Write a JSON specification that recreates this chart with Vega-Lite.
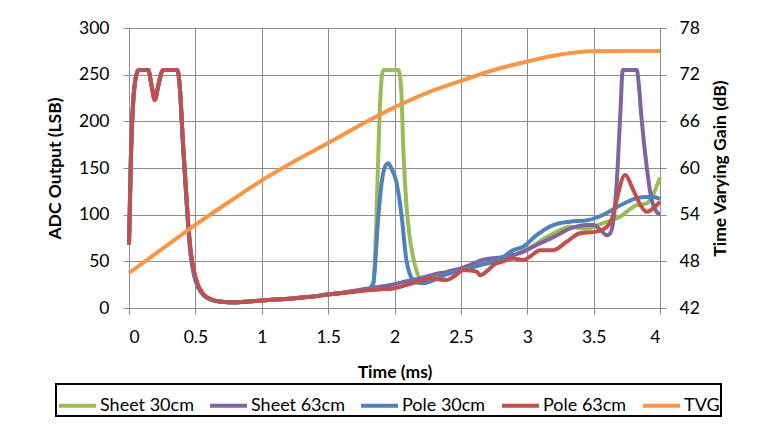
{
  "$schema": "https://vega.github.io/schema/vega-lite/v6.json",
  "width": 531,
  "height": 280,
  "autosize": {"type": "none"},
  "padding": {"left": 129, "top": 28, "right": 100, "bottom": 123},
  "background": "white",
  "config": {
    "font": "Lato",
    "view": {"stroke": null},
    "axis": {
      "labelFont": "Lato", "labelFontSize": 17.5, "labelColor": "#000",
      "titleFont": "Lato", "titleFontSize": 17.5, "titleFontWeight": "bold", "titleColor": "#000",
      "gridColor": "#8c8c8c", "gridWidth": 1, "gridOpacity": 1, "domainColor": "#8c8c8c", "tickColor": "#8c8c8c",
      "tickSize": 6, "domainWidth": 1, "tickWidth": 1, "domain": true, "ticks": true
    },
    "legend": {
      "orient": "none", "legendX": -73, "legendY": 356, "direction": "horizontal",
      "strokeColor": "#000", "strokeWidth": 2, "fillColor": "white", "padding": 1,
      "labelFont": "Lato", "labelFontSize": 18, "labelColor": "#000", "labelOffset": 2,
      "symbolType": "stroke", "symbolSize": 1369, "symbolStrokeWidth": 4, "columnPadding": 8,
      "title": null
    }
  },
  "datasets": {
    "adc": [
      {"s":"Sheet 30cm","t":0,"v":68},{"s":"Sheet 30cm","t":0.015,"v":165},{"s":"Sheet 30cm","t":0.035,"v":228},{"s":"Sheet 30cm","t":0.06,"v":252},{"s":"Sheet 30cm","t":0.075,"v":255},{"s":"Sheet 30cm","t":0.145,"v":255},{"s":"Sheet 30cm","t":0.17,"v":238},{"s":"Sheet 30cm","t":0.195,"v":223},{"s":"Sheet 30cm","t":0.22,"v":238},{"s":"Sheet 30cm","t":0.25,"v":254},{"s":"Sheet 30cm","t":0.265,"v":255},{"s":"Sheet 30cm","t":0.365,"v":255},{"s":"Sheet 30cm","t":0.385,"v":232},{"s":"Sheet 30cm","t":0.405,"v":180},{"s":"Sheet 30cm","t":0.425,"v":135},{"s":"Sheet 30cm","t":0.445,"v":92},{"s":"Sheet 30cm","t":0.465,"v":60},{"s":"Sheet 30cm","t":0.49,"v":38},{"s":"Sheet 30cm","t":0.52,"v":24},{"s":"Sheet 30cm","t":0.56,"v":15},{"s":"Sheet 30cm","t":0.61,"v":9.5},{"s":"Sheet 30cm","t":0.68,"v":7},{"s":"Sheet 30cm","t":0.8,"v":6},{"s":"Sheet 30cm","t":0.9,"v":7},{"s":"Sheet 30cm","t":1.0,"v":8},{"s":"Sheet 30cm","t":1.1,"v":9},{"s":"Sheet 30cm","t":1.25,"v":10.5},{"s":"Sheet 30cm","t":1.4,"v":12.5},{"s":"Sheet 30cm","t":1.5,"v":14.5},{"s":"Sheet 30cm","t":1.6,"v":16},{"s":"Sheet 30cm","t":1.7,"v":18},
      {"s":"Sheet 30cm","t":1.8,"v":20},{"s":"Sheet 30cm","t":1.84,"v":24},{"s":"Sheet 30cm","t":1.86,"v":80},{"s":"Sheet 30cm","t":1.875,"v":150},{"s":"Sheet 30cm","t":1.895,"v":230},{"s":"Sheet 30cm","t":1.915,"v":255},{"s":"Sheet 30cm","t":2.03,"v":255},{"s":"Sheet 30cm","t":2.05,"v":235},{"s":"Sheet 30cm","t":2.067,"v":169},{"s":"Sheet 30cm","t":2.09,"v":110},{"s":"Sheet 30cm","t":2.115,"v":75},{"s":"Sheet 30cm","t":2.14,"v":55},{"s":"Sheet 30cm","t":2.17,"v":38},{"s":"Sheet 30cm","t":2.2,"v":31},{"s":"Sheet 30cm","t":2.25,"v":31},{"s":"Sheet 30cm","t":2.3,"v":33},{"s":"Sheet 30cm","t":2.4,"v":38},{"s":"Sheet 30cm","t":2.5,"v":42},{"s":"Sheet 30cm","t":2.6,"v":46},{"s":"Sheet 30cm","t":2.7,"v":49},{"s":"Sheet 30cm","t":2.8,"v":53},{"s":"Sheet 30cm","t":2.9,"v":57},{"s":"Sheet 30cm","t":2.95,"v":60},{"s":"Sheet 30cm","t":3.05,"v":67},{"s":"Sheet 30cm","t":3.1,"v":72},{"s":"Sheet 30cm","t":3.2,"v":80},{"s":"Sheet 30cm","t":3.32,"v":87},{"s":"Sheet 30cm","t":3.45,"v":85},{"s":"Sheet 30cm","t":3.57,"v":91},{"s":"Sheet 30cm","t":3.7,"v":98},{"s":"Sheet 30cm","t":3.82,"v":110},{"s":"Sheet 30cm","t":3.9,"v":112},{"s":"Sheet 30cm","t":3.95,"v":122},{"s":"Sheet 30cm","t":4.0,"v":140},
      {"s":"Sheet 63cm","t":0,"v":68},{"s":"Sheet 63cm","t":0.015,"v":165},{"s":"Sheet 63cm","t":0.035,"v":228},{"s":"Sheet 63cm","t":0.06,"v":252},{"s":"Sheet 63cm","t":0.075,"v":255},{"s":"Sheet 63cm","t":0.145,"v":255},{"s":"Sheet 63cm","t":0.17,"v":238},{"s":"Sheet 63cm","t":0.195,"v":223},{"s":"Sheet 63cm","t":0.22,"v":238},{"s":"Sheet 63cm","t":0.25,"v":254},{"s":"Sheet 63cm","t":0.265,"v":255},{"s":"Sheet 63cm","t":0.365,"v":255},{"s":"Sheet 63cm","t":0.385,"v":232},{"s":"Sheet 63cm","t":0.405,"v":180},{"s":"Sheet 63cm","t":0.425,"v":135},{"s":"Sheet 63cm","t":0.445,"v":90},{"s":"Sheet 63cm","t":0.465,"v":58},{"s":"Sheet 63cm","t":0.49,"v":36},{"s":"Sheet 63cm","t":0.52,"v":23},{"s":"Sheet 63cm","t":0.56,"v":14},{"s":"Sheet 63cm","t":0.61,"v":9.5},{"s":"Sheet 63cm","t":0.68,"v":7},{"s":"Sheet 63cm","t":0.8,"v":6},{"s":"Sheet 63cm","t":0.9,"v":7},{"s":"Sheet 63cm","t":1.0,"v":8},{"s":"Sheet 63cm","t":1.1,"v":9},{"s":"Sheet 63cm","t":1.25,"v":10.5},{"s":"Sheet 63cm","t":1.4,"v":12.5},{"s":"Sheet 63cm","t":1.5,"v":14.5},{"s":"Sheet 63cm","t":1.6,"v":16},{"s":"Sheet 63cm","t":1.7,"v":18.5},
      {"s":"Sheet 63cm","t":1.8,"v":21},{"s":"Sheet 63cm","t":1.9,"v":23},{"s":"Sheet 63cm","t":2.0,"v":25.5},{"s":"Sheet 63cm","t":2.1,"v":29},{"s":"Sheet 63cm","t":2.2,"v":32},{"s":"Sheet 63cm","t":2.27,"v":35},{"s":"Sheet 63cm","t":2.4,"v":39},{"s":"Sheet 63cm","t":2.5,"v":42.5},{"s":"Sheet 63cm","t":2.6,"v":48},{"s":"Sheet 63cm","t":2.65,"v":51},{"s":"Sheet 63cm","t":2.72,"v":53},{"s":"Sheet 63cm","t":2.8,"v":54},{"s":"Sheet 63cm","t":2.9,"v":57},{"s":"Sheet 63cm","t":2.95,"v":59},{"s":"Sheet 63cm","t":3.07,"v":67.5},{"s":"Sheet 63cm","t":3.2,"v":76},{"s":"Sheet 63cm","t":3.32,"v":85},{"s":"Sheet 63cm","t":3.45,"v":89},{"s":"Sheet 63cm","t":3.5,"v":89},{"s":"Sheet 63cm","t":3.55,"v":84},{"s":"Sheet 63cm","t":3.6,"v":78},{"s":"Sheet 63cm","t":3.625,"v":80},{"s":"Sheet 63cm","t":3.65,"v":95},{"s":"Sheet 63cm","t":3.674,"v":134},{"s":"Sheet 63cm","t":3.7,"v":205},{"s":"Sheet 63cm","t":3.72,"v":255},{"s":"Sheet 63cm","t":3.825,"v":255},{"s":"Sheet 63cm","t":3.84,"v":240},{"s":"Sheet 63cm","t":3.86,"v":205},{"s":"Sheet 63cm","t":3.9,"v":151},{"s":"Sheet 63cm","t":3.937,"v":116},{"s":"Sheet 63cm","t":3.965,"v":105},{"s":"Sheet 63cm","t":4.0,"v":100},
      {"s":"Pole 30cm","t":0,"v":68},{"s":"Pole 30cm","t":0.015,"v":165},{"s":"Pole 30cm","t":0.035,"v":228},{"s":"Pole 30cm","t":0.06,"v":252},{"s":"Pole 30cm","t":0.075,"v":255},{"s":"Pole 30cm","t":0.145,"v":255},{"s":"Pole 30cm","t":0.17,"v":238},{"s":"Pole 30cm","t":0.195,"v":223},{"s":"Pole 30cm","t":0.22,"v":238},{"s":"Pole 30cm","t":0.25,"v":254},{"s":"Pole 30cm","t":0.265,"v":255},{"s":"Pole 30cm","t":0.365,"v":255},{"s":"Pole 30cm","t":0.385,"v":232},{"s":"Pole 30cm","t":0.405,"v":178},{"s":"Pole 30cm","t":0.425,"v":132},{"s":"Pole 30cm","t":0.445,"v":88},{"s":"Pole 30cm","t":0.465,"v":56},{"s":"Pole 30cm","t":0.49,"v":35},{"s":"Pole 30cm","t":0.52,"v":22},{"s":"Pole 30cm","t":0.56,"v":14},{"s":"Pole 30cm","t":0.61,"v":9},{"s":"Pole 30cm","t":0.68,"v":7},{"s":"Pole 30cm","t":0.8,"v":6},{"s":"Pole 30cm","t":0.9,"v":7},{"s":"Pole 30cm","t":1.0,"v":8},{"s":"Pole 30cm","t":1.1,"v":9},{"s":"Pole 30cm","t":1.25,"v":10.5},{"s":"Pole 30cm","t":1.4,"v":12.5},{"s":"Pole 30cm","t":1.5,"v":14.5},{"s":"Pole 30cm","t":1.6,"v":16},{"s":"Pole 30cm","t":1.7,"v":18},
      {"s":"Pole 30cm","t":1.8,"v":20},{"s":"Pole 30cm","t":1.84,"v":27},{"s":"Pole 30cm","t":1.878,"v":98},{"s":"Pole 30cm","t":1.903,"v":134},{"s":"Pole 30cm","t":1.93,"v":152},{"s":"Pole 30cm","t":1.953,"v":155},{"s":"Pole 30cm","t":1.975,"v":150},{"s":"Pole 30cm","t":2.016,"v":134},{"s":"Pole 30cm","t":2.054,"v":98},{"s":"Pole 30cm","t":2.09,"v":51},{"s":"Pole 30cm","t":2.14,"v":30},{"s":"Pole 30cm","t":2.18,"v":27},{"s":"Pole 30cm","t":2.22,"v":26.5},{"s":"Pole 30cm","t":2.3,"v":30},{"s":"Pole 30cm","t":2.39,"v":36},{"s":"Pole 30cm","t":2.5,"v":40},{"s":"Pole 30cm","t":2.645,"v":46},{"s":"Pole 30cm","t":2.77,"v":51},{"s":"Pole 30cm","t":2.82,"v":55},{"s":"Pole 30cm","t":2.895,"v":62},{"s":"Pole 30cm","t":2.97,"v":65.7},{"s":"Pole 30cm","t":3.07,"v":78},{"s":"Pole 30cm","t":3.2,"v":89},{"s":"Pole 30cm","t":3.32,"v":92.5},{"s":"Pole 30cm","t":3.45,"v":94},{"s":"Pole 30cm","t":3.57,"v":99.6},{"s":"Pole 30cm","t":3.7,"v":110},{"s":"Pole 30cm","t":3.82,"v":117.5},{"s":"Pole 30cm","t":3.9,"v":119},{"s":"Pole 30cm","t":3.95,"v":119},{"s":"Pole 30cm","t":4.0,"v":117},
      {"s":"Pole 63cm","t":0,"v":68},{"s":"Pole 63cm","t":0.015,"v":165},{"s":"Pole 63cm","t":0.035,"v":228},{"s":"Pole 63cm","t":0.06,"v":252},{"s":"Pole 63cm","t":0.075,"v":255},{"s":"Pole 63cm","t":0.145,"v":255},{"s":"Pole 63cm","t":0.17,"v":238},{"s":"Pole 63cm","t":0.195,"v":223},{"s":"Pole 63cm","t":0.22,"v":238},{"s":"Pole 63cm","t":0.25,"v":254},{"s":"Pole 63cm","t":0.265,"v":255},{"s":"Pole 63cm","t":0.365,"v":255},{"s":"Pole 63cm","t":0.385,"v":232},{"s":"Pole 63cm","t":0.405,"v":182},{"s":"Pole 63cm","t":0.425,"v":138},{"s":"Pole 63cm","t":0.445,"v":94},{"s":"Pole 63cm","t":0.465,"v":62},{"s":"Pole 63cm","t":0.49,"v":40},{"s":"Pole 63cm","t":0.52,"v":25},{"s":"Pole 63cm","t":0.56,"v":15},{"s":"Pole 63cm","t":0.61,"v":10},{"s":"Pole 63cm","t":0.68,"v":7},{"s":"Pole 63cm","t":0.8,"v":6},{"s":"Pole 63cm","t":0.9,"v":7},{"s":"Pole 63cm","t":1.0,"v":8},{"s":"Pole 63cm","t":1.1,"v":9},{"s":"Pole 63cm","t":1.25,"v":10.5},{"s":"Pole 63cm","t":1.4,"v":12.5},{"s":"Pole 63cm","t":1.5,"v":14.5},{"s":"Pole 63cm","t":1.6,"v":16},{"s":"Pole 63cm","t":1.7,"v":17.5},
      {"s":"Pole 63cm","t":1.8,"v":19},{"s":"Pole 63cm","t":1.9,"v":20},{"s":"Pole 63cm","t":1.99,"v":21},{"s":"Pole 63cm","t":2.1,"v":25},{"s":"Pole 63cm","t":2.2,"v":29},{"s":"Pole 63cm","t":2.27,"v":31.8},{"s":"Pole 63cm","t":2.39,"v":30},{"s":"Pole 63cm","t":2.45,"v":34},{"s":"Pole 63cm","t":2.52,"v":40.7},{"s":"Pole 63cm","t":2.62,"v":39},{"s":"Pole 63cm","t":2.645,"v":35},{"s":"Pole 63cm","t":2.7,"v":40},{"s":"Pole 63cm","t":2.745,"v":46},{"s":"Pole 63cm","t":2.82,"v":50},{"s":"Pole 63cm","t":2.895,"v":53},{"s":"Pole 63cm","t":2.97,"v":51.4},{"s":"Pole 63cm","t":3.03,"v":56},{"s":"Pole 63cm","t":3.096,"v":62},{"s":"Pole 63cm","t":3.196,"v":62},{"s":"Pole 63cm","t":3.297,"v":71},{"s":"Pole 63cm","t":3.397,"v":80},{"s":"Pole 63cm","t":3.52,"v":81.8},{"s":"Pole 63cm","t":3.6,"v":87},{"s":"Pole 63cm","t":3.65,"v":101.5},{"s":"Pole 63cm","t":3.674,"v":116},{"s":"Pole 63cm","t":3.736,"v":142.5},{"s":"Pole 63cm","t":3.8,"v":126},{"s":"Pole 63cm","t":3.86,"v":108.5},{"s":"Pole 63cm","t":3.9,"v":103},{"s":"Pole 63cm","t":3.95,"v":107},{"s":"Pole 63cm","t":4.0,"v":114}
    ],
    "tvg": [
      {"s":"TVG","t":0,"g":46.5},{"s":"TVG","t":0.25,"g":49.6},{"s":"TVG","t":0.5,"g":52.7},{"s":"TVG","t":0.75,"g":55.6},{"s":"TVG","t":1.0,"g":58.4},{"s":"TVG","t":1.25,"g":60.9},{"s":"TVG","t":1.5,"g":63.2},{"s":"TVG","t":1.75,"g":65.6},{"s":"TVG","t":2.0,"g":67.8},{"s":"TVG","t":2.25,"g":69.7},{"s":"TVG","t":2.5,"g":71.2},{"s":"TVG","t":2.75,"g":72.6},{"s":"TVG","t":3.0,"g":73.7},{"s":"TVG","t":3.25,"g":74.6},{"s":"TVG","t":3.5,"g":75.0},{"s":"TVG","t":3.75,"g":75.05},{"s":"TVG","t":4.0,"g":75.05}
    ]
  },
  "layer": [
    {
      "data": {"name": "adc"},
      "mark": {"type": "line", "strokeWidth": 4, "interpolate": "monotone"},
      "encoding": {
        "x": {"field": "t", "type": "quantitative", "scale": {"domain": [0, 4], "nice": false},
              "axis": {"values": [0,0.5,1,1.5,2,2.5,3,3.5,4], "format": "~g", "grid": true, "domain": true, "ticks": true, "title": "Time (ms)", "labelPadding": 14, "titlePadding": 18}},
        "y": {"field": "v", "type": "quantitative", "scale": {"domain": [0, 300], "nice": false},
              "axis": {"orient": "left", "values": [0,50,100,150,200,250,300], "grid": true, "domain": true, "ticks": true, "title": "ADC Output (LSB)", "labelPadding": 14, "titlePadding": 14}},
        "color": {"field": "s", "type": "nominal",
                  "scale": {"domain": ["Sheet 30cm","Sheet 63cm","Pole 30cm","Pole 63cm","TVG"], "range": ["#9BBB59","#8064A2","#4F81BD","#C0504D","#F79646"]}}
      }
    },
    {
      "data": {"name": "tvg"},
      "mark": {"type": "line", "strokeWidth": 4, "interpolate": "monotone"},
      "encoding": {
        "x": {"field": "t", "type": "quantitative", "scale": {"domain": [0, 4], "nice": false}},
        "y": {"field": "g", "type": "quantitative", "scale": {"domain": [42, 78], "nice": false},
              "axis": {"orient": "right", "values": [42,48,54,60,66,72,78], "grid": false, "domain": true, "ticks": true, "title": "Time Varying Gain (dB)", "titleAngle": 270, "titleBaseline": "top", "labelPadding": 13, "titlePadding": 12}},
        "color": {"field": "s", "type": "nominal",
                  "scale": {"domain": ["Sheet 30cm","Sheet 63cm","Pole 30cm","Pole 63cm","TVG"], "range": ["#9BBB59","#8064A2","#4F81BD","#C0504D","#F79646"]}}
      }
    }
  ],
  "resolve": {"scale": {"y": "independent"}}
}
